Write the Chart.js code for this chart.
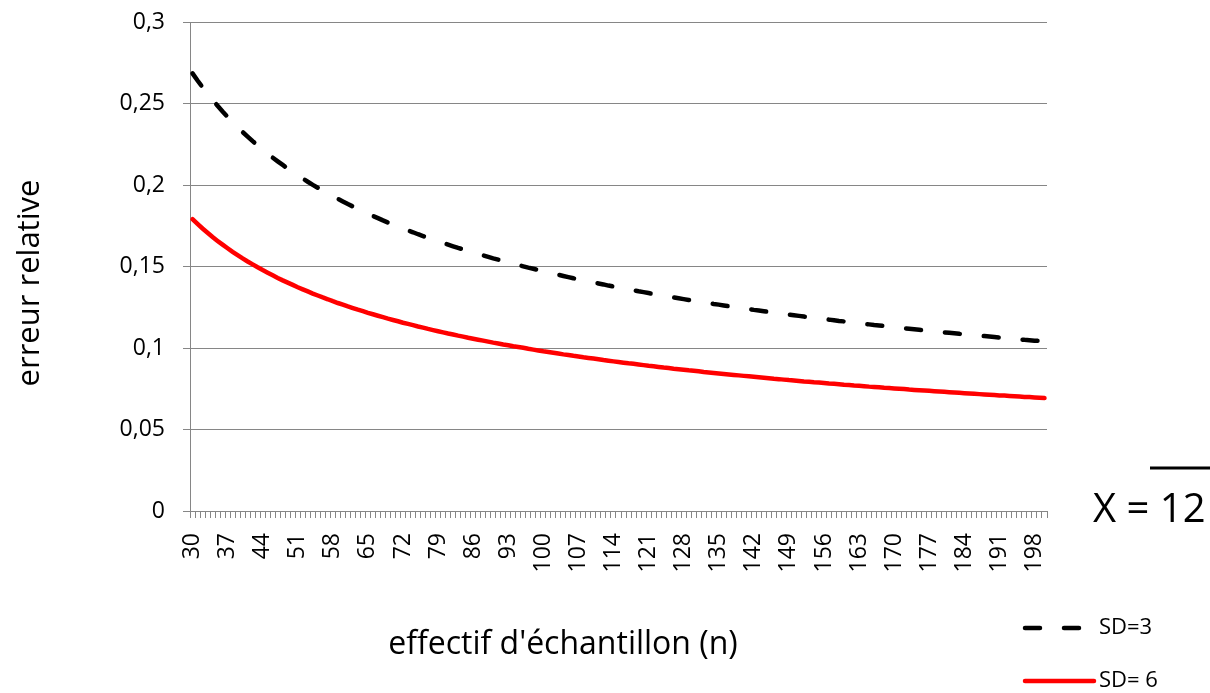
<!DOCTYPE html>
<html>
<head>
<meta charset="utf-8">
<script src="https://cdn.jsdelivr.net/npm/chart.js@4.4.1/dist/chart.umd.min.js"></script>
<style>
  html, body { margin: 0; padding: 0; background: #fff; }
  #wrap { width: 1210px; height: 693px; position: relative; }
</style>
</head>
<body>
<div id="wrap"><canvas id="chart"></canvas></div>
<script>
// Sample sizes n = 30 .. 200
const sampleSizes = [
    30, 31, 32, 33, 34, 35, 36, 37, 38, 39, 40, 41, 42, 43, 44, 45, 46, 47, 48, 49,
    50, 51, 52, 53, 54, 55, 56, 57, 58, 59, 60, 61, 62, 63, 64, 65, 66, 67, 68, 69,
    70, 71, 72, 73, 74, 75, 76, 77, 78, 79, 80, 81, 82, 83, 84, 85, 86, 87, 88, 89,
    90, 91, 92, 93, 94, 95, 96, 97, 98, 99, 100, 101, 102, 103, 104, 105, 106, 107, 108, 109,
    110, 111, 112, 113, 114, 115, 116, 117, 118, 119, 120, 121, 122, 123, 124, 125, 126, 127, 128, 129,
    130, 131, 132, 133, 134, 135, 136, 137, 138, 139, 140, 141, 142, 143, 144, 145, 146, 147, 148, 149,
    150, 151, 152, 153, 154, 155, 156, 157, 158, 159, 160, 161, 162, 163, 164, 165, 166, 167, 168, 169,
    170, 171, 172, 173, 174, 175, 176, 177, 178, 179, 180, 181, 182, 183, 184, 185, 186, 187, 188, 189,
    190, 191, 192, 193, 194, 195, 196, 197, 198, 199, 200
];

// Only these categories get a printed label
const xTickLabels = ['30', '37', '44', '51', '58', '65', '72', '79', '86', '93', '100', '107', '114',
    '121', '128', '135', '142', '149', '156', '163', '170', '177', '184', '191', '198'];

// Black dashed series (SD=3)
const sd3Values = [
    0.2685, 0.2641, 0.2600, 0.2560, 0.2522, 0.2486, 0.2451, 0.2418, 0.2386, 0.2355,
    0.2325, 0.2297, 0.2269, 0.2243, 0.2217, 0.2192, 0.2168, 0.2145, 0.2123, 0.2101,
    0.2080, 0.2059, 0.2039, 0.2020, 0.2001, 0.1983, 0.1965, 0.1948, 0.1931, 0.1915,
    0.1899, 0.1883, 0.1868, 0.1853, 0.1838, 0.1824, 0.1810, 0.1797, 0.1783, 0.1770,
    0.1758, 0.1745, 0.1733, 0.1721, 0.1710, 0.1698, 0.1687, 0.1676, 0.1665, 0.1655,
    0.1644, 0.1634, 0.1624, 0.1614, 0.1605, 0.1595, 0.1586, 0.1577, 0.1568, 0.1559,
    0.1550, 0.1542, 0.1533, 0.1525, 0.1517, 0.1509, 0.1501, 0.1493, 0.1486, 0.1478,
    0.1471, 0.1463, 0.1456, 0.1449, 0.1442, 0.1435, 0.1428, 0.1422, 0.1415, 0.1409,
    0.1402, 0.1396, 0.1390, 0.1383, 0.1377, 0.1371, 0.1365, 0.1360, 0.1354, 0.1348,
    0.1343, 0.1337, 0.1331, 0.1326, 0.1321, 0.1315, 0.1310, 0.1305, 0.1300, 0.1295,
    0.1290, 0.1285, 0.1280, 0.1275, 0.1270, 0.1266, 0.1261, 0.1256, 0.1252, 0.1247,
    0.1243, 0.1239, 0.1234, 0.1230, 0.1226, 0.1221, 0.1217, 0.1213, 0.1209, 0.1205,
    0.1201, 0.1197, 0.1193, 0.1189, 0.1185, 0.1181, 0.1177, 0.1174, 0.1170, 0.1166,
    0.1163, 0.1159, 0.1155, 0.1152, 0.1148, 0.1145, 0.1141, 0.1138, 0.1135, 0.1131,
    0.1128, 0.1125, 0.1121, 0.1118, 0.1115, 0.1112, 0.1109, 0.1105, 0.1102, 0.1099,
    0.1096, 0.1093, 0.1090, 0.1087, 0.1084, 0.1081, 0.1078, 0.1075, 0.1073, 0.1070,
    0.1067, 0.1064, 0.1061, 0.1059, 0.1056, 0.1053, 0.1050, 0.1048, 0.1045, 0.1043,
    0.1040
];

// Red solid series (SD= 6)
const sd6Values = [
    0.1790, 0.1761, 0.1733, 0.1707, 0.1681, 0.1657, 0.1634, 0.1612, 0.1590, 0.1570,
    0.1550, 0.1531, 0.1513, 0.1495, 0.1478, 0.1462, 0.1446, 0.1430, 0.1415, 0.1401,
    0.1387, 0.1373, 0.1360, 0.1347, 0.1334, 0.1322, 0.1310, 0.1299, 0.1287, 0.1276,
    0.1266, 0.1255, 0.1245, 0.1235, 0.1226, 0.1216, 0.1207, 0.1198, 0.1189, 0.1180,
    0.1172, 0.1164, 0.1155, 0.1148, 0.1140, 0.1132, 0.1125, 0.1117, 0.1110, 0.1103,
    0.1096, 0.1089, 0.1083, 0.1076, 0.1070, 0.1063, 0.1057, 0.1051, 0.1045, 0.1039,
    0.1033, 0.1028, 0.1022, 0.1017, 0.1011, 0.1006, 0.1001, 0.0995, 0.0990, 0.0985,
    0.0980, 0.0976, 0.0971, 0.0966, 0.0961, 0.0957, 0.0952, 0.0948, 0.0943, 0.0939,
    0.0935, 0.0931, 0.0926, 0.0922, 0.0918, 0.0914, 0.0910, 0.0906, 0.0903, 0.0899,
    0.0895, 0.0891, 0.0888, 0.0884, 0.0880, 0.0877, 0.0873, 0.0870, 0.0867, 0.0863,
    0.0860, 0.0857, 0.0853, 0.0850, 0.0847, 0.0844, 0.0841, 0.0838, 0.0835, 0.0832,
    0.0829, 0.0826, 0.0823, 0.0820, 0.0817, 0.0814, 0.0811, 0.0809, 0.0806, 0.0803,
    0.0801, 0.0798, 0.0795, 0.0793, 0.0790, 0.0788, 0.0785, 0.0782, 0.0780, 0.0778,
    0.0775, 0.0773, 0.0770, 0.0768, 0.0766, 0.0763, 0.0761, 0.0759, 0.0756, 0.0754,
    0.0752, 0.0750, 0.0748, 0.0745, 0.0743, 0.0741, 0.0739, 0.0737, 0.0735, 0.0733,
    0.0731, 0.0729, 0.0727, 0.0725, 0.0723, 0.0721, 0.0719, 0.0717, 0.0715, 0.0713,
    0.0711, 0.0709, 0.0708, 0.0706, 0.0704, 0.0702, 0.0700, 0.0699, 0.0697, 0.0695,
    0.0693
];

const seriesNames = ['SD=3', 'SD= 6'];
const xTitle = "effectif d'échantillon (n)";
const yTitle = 'erreur relative';
const meanLabel = 'X = 12';

const FONT = '"Open Sans", "Liberation Sans", sans-serif';
const GRID = '#868686';

// Axis titles, legend and the mean note, drawn on top of the chart
const extrasPlugin = {
    id: 'extras',
    afterDraw(chart) {
        const ctx = chart.ctx;
        ctx.save();
        ctx.fillStyle = '#000';
        ctx.textAlign = 'center';
        ctx.textBaseline = 'middle';
        ctx.font = '32px ' + FONT;
        ctx.fillText(xTitle, 563, 645);

        ctx.font = '31px ' + FONT;
        ctx.save();
        ctx.translate(30, 283);
        ctx.rotate(-Math.PI / 2);
        ctx.fillText(yTitle, 0, 0);
        ctx.restore();

        // legend
        const legendY = [628, 681];
        chart.data.datasets.forEach((ds, i) => {
            ctx.beginPath();
            ctx.strokeStyle = ds.borderColor;
            ctx.lineWidth = ds.borderWidth;
            ctx.lineCap = 'round';
            ctx.setLineDash(ds.borderDash || []);
            ctx.moveTo(1025, legendY[i]);
            ctx.lineTo(1094, legendY[i]);
            ctx.stroke();
            ctx.setLineDash([]);
            ctx.textAlign = 'left';
            ctx.font = '22px ' + FONT;
            ctx.fillStyle = '#000';
            ctx.fillText(ds.label, 1099, legendY[i]);
        });

        // mean note with overline
        ctx.font = '40px ' + FONT;
        ctx.textAlign = 'left';
        ctx.textBaseline = 'alphabetic';
        ctx.fillText(meanLabel, 1093, 522);
        ctx.beginPath();
        ctx.strokeStyle = '#000';
        ctx.lineWidth = 3;
        ctx.lineCap = 'butt';
        ctx.moveTo(1150, 468);
        ctx.lineTo(1210, 468);
        ctx.stroke();
        ctx.restore();
    }
};

const ctx = document.getElementById('chart').getContext('2d');
const chart = new Chart(ctx, {
    type: 'line',
    data: {
        labels: sampleSizes.map(String),
        datasets: [
            {
                label: seriesNames[0],
                data: sd3Values,
                borderColor: '#000000',
                borderWidth: 4.5,
                borderDash: [15, 24],
                borderCapStyle: 'round',
                pointRadius: 0,
                fill: false,
            },
            {
                label: seriesNames[1],
                data: sd6Values,
                borderColor: '#ff0000',
                borderWidth: 4.5,
                borderCapStyle: 'round',
                pointRadius: 0,
                fill: false,
            },
        ],
    },
    options: {
        responsive: true,
        maintainAspectRatio: false,
        animation: false,
        layout: { padding: { top: 22, right: 163, bottom: 0, left: 0 } },
        plugins: {
            legend: { display: false },
            tooltip: { enabled: false },
        },
        scales: {
            x: {
                type: 'category',
                offset: true,
                grid: {
                    offset: true,
                    drawOnChartArea: false,
                    drawTicks: true,
                    tickLength: 7,
                    color: GRID,
                },
                border: { color: GRID, width: 1 },
                ticks: {
                    autoSkip: false,
                    maxRotation: 90,
                    minRotation: 90,
                    padding: 15,
                    color: '#000',
                    font: { family: FONT, size: 23 },
                    callback: function(value) {
                        const lab = this.getLabelForValue(value);
                        return xTickLabels.includes(lab) ? lab : '';
                    }
                },
                afterFit: function(scale) {
                    scale.height = 182;
                    scale.paddingTop = 0;
                    scale.paddingBottom = 0;
                }
            },
            y: {
                min: 0,
                max: 0.3,
                grid: { color: GRID, tickLength: 7, drawTicks: true },
                border: { color: GRID, width: 1 },
                ticks: {
                    stepSize: 0.05,
                    padding: 18,
                    color: '#000',
                    font: { family: FONT, size: 23 },
                    callback: function(value) {
                        return parseFloat(value.toFixed(2)).toString().replace('.', ',');
                    }
                },
                afterFit: function(scale) {
                    scale.width = 190;
                    scale.paddingTop = 0;
                    scale.paddingBottom = 0;
                }
            }
        }
    },
    plugins: [extrasPlugin]
});
</script>
</body>
</html>
